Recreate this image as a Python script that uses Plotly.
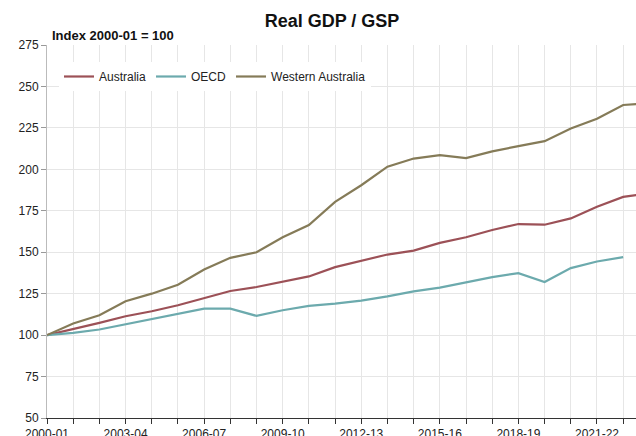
import plotly.graph_objects as go

years = [f"{y}-{str(y+1)[-2:]}" for y in range(2000, 2024)]
australia = [100, 103.6, 107.4, 111.4, 114.4, 118, 122.4, 126.6, 129, 132, 135.4, 141, 145,
             148.6, 151, 155.6, 159, 163.4, 167, 166.6, 170.4, 177.4, 183.4, 185.5]
oecd = [100, 101.3, 103.4, 106.6, 109.4, 112.6, 116, 116, 111.6, 115, 117.6, 119, 120.8,
        123.4, 126.4, 128.6, 132, 135, 137.4, 132, 140.4, 144.4, 147, None]
western_australia = [100, 107, 112, 120.4, 125, 130.4, 139.6, 146.6, 150, 159, 166.4, 180.4,
                     190.4, 201.6, 206.5, 208.6, 206.8, 210.8, 214, 217, 224.6, 230.5, 238.8, 240]
tick_labels = [y if i % 3 == 0 else "" for i, y in enumerate(years)]

colors = {"Australia": "#9C5157", "OECD": "#6CAAAD", "Western Australia": "#857B58"}

fig = go.Figure()
for name, vals in [("Australia", australia), ("OECD", oecd), ("Western Australia", western_australia)]:
    fig.add_trace(go.Scatter(x=years, y=vals, mode="lines", name=name,
                             line=dict(color=colors[name], width=2.2), connectgaps=False))

fig.update_layout(
    width=636, height=436,
    margin=dict(l=47, r=0, t=45, b=18),
    paper_bgcolor="white", plot_bgcolor="white",
    font=dict(family="Liberation Sans, Arial, sans-serif", size=12, color="#222"),
    title=dict(text="<b>Real GDP / GSP</b>", x=332/636, xanchor="center", y=1 - 21/436, yanchor="middle",
               font=dict(size=18, color="#111")),
    showlegend=True,
    legend=dict(orientation="h", x=(59-47)/589, y=(418-62)/373, xanchor="left", yanchor="top",
                bgcolor="white", font=dict(size=12, color="#222"), itemwidth=30),
    xaxis=dict(type="category", range=[0, 22.49], tickmode="array", tickvals=years, ticktext=tick_labels,
               showgrid=True, gridcolor="#E6E6E6", gridwidth=1, showline=True, linecolor="#333", linewidth=1,
               ticks="outside", ticklen=5, tickcolor="#333", tickangle=0, automargin=False,
               tickfont=dict(size=12, color="#222")),
    yaxis=dict(range=[50, 275], tickvals=list(range(50, 276, 25)), showgrid=True, gridcolor="#E6E6E6",
               gridwidth=1, showline=True, linecolor="#BBBBBB", linewidth=1, ticks="outside", ticklen=5,
               tickcolor="#999", automargin=False, zeroline=False, tickfont=dict(size=12, color="#222")),
    annotations=[dict(text="<b>Index 2000-01 = 100</b>", xref="paper", yref="paper", x=(50-47)/589, y=(418-36)/373,
                      xanchor="left", yanchor="middle", showarrow=False, font=dict(size=13, color="#111"))],
)

fig.write_html("out.html", config={"displayModeBar": False},
               post_script="document.body.style.margin='0';document.body.style.overflow='hidden';")
